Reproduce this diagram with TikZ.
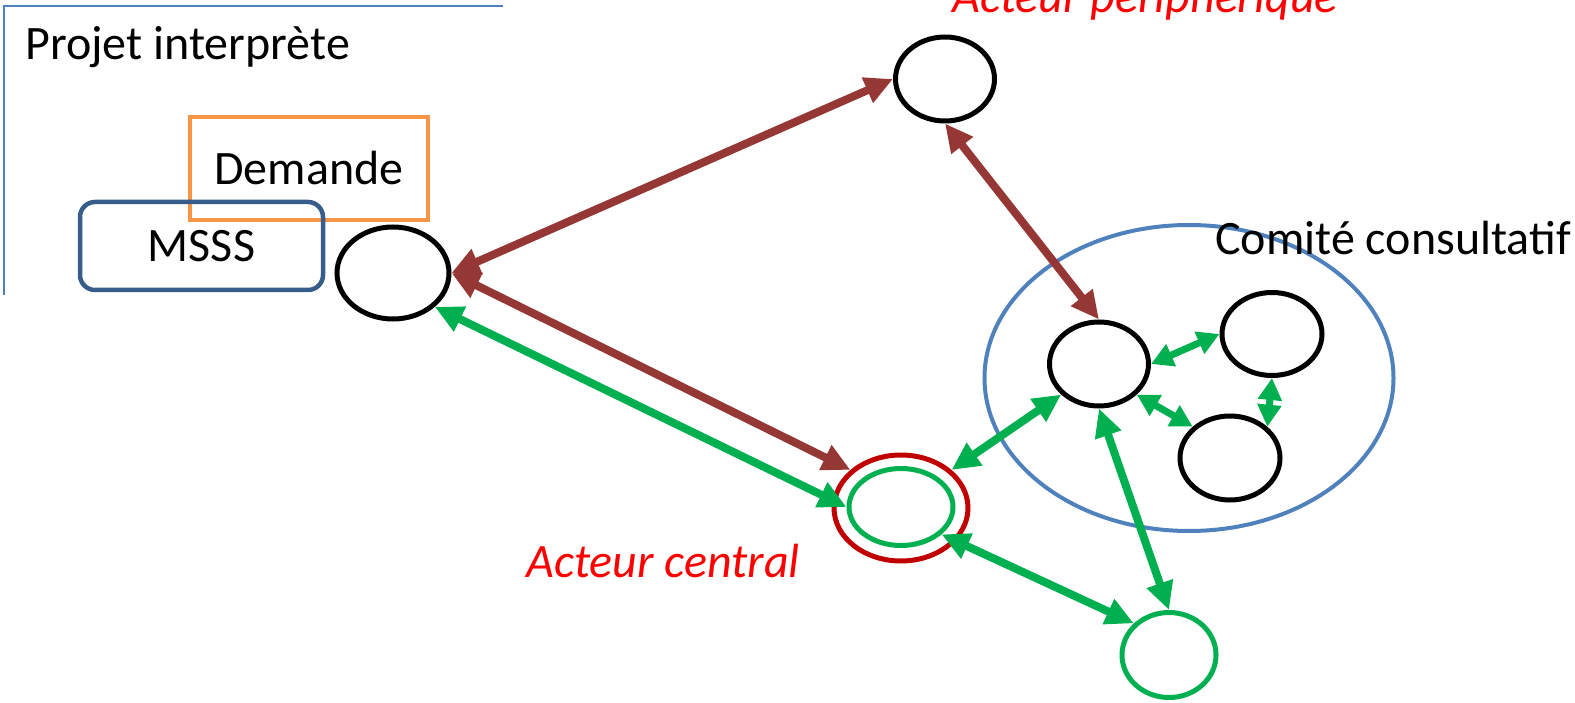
\documentclass[tikz,border=0pt]{standalone}
\usepackage{fontspec}
\setmainfont{Carlito}
\usetikzlibrary{shapes.geometric,arrows.meta}

\definecolor{linkbrown}{RGB}{149,55,53}
\definecolor{linkgreen}{RGB}{0,176,80}
\definecolor{frameblue}{RGB}{79,129,189}
\definecolor{demorange}{RGB}{247,150,70}
\definecolor{msssblue}{RGB}{56,93,138}
\definecolor{centralred}{RGB}{192,0,0}

\tikzset{every picture/.style={line width=0.75pt}}
\tikzset{
  actor/.style={ellipse, draw, line width=5pt, inner sep=0pt},
  bigtext/.style={font=\fontsize{48}{58}\selectfont, inner sep=0pt},
  redlabel/.style={font=\fontsize{48}{58}\selectfont\itshape, text=red, inner sep=0pt},
  brownlink/.style={draw=linkbrown, line width=8pt, >={Triangle[length=28pt,width=26pt]}, <->},
  greenlink/.style={draw=linkgreen, line width=8pt, >={Triangle[length=28pt,width=26pt]}, <->},
  smalllink/.style={draw=linkgreen, line width=7pt, >={Triangle[length=22pt,width=23pt]}, <->}
}

\begin{document}
\begin{tikzpicture}[x=1pt,y=1pt,yscale=-1,xscale=1]
\useasboundingbox (0,0) rectangle (1575,703);

%Straight Lines [frame]
\draw [frameblue, line width=2pt]  (503,6) -- (4,6) -- (4,295) ;

% Text Node
\node [bigtext, anchor=base west] (projlabel) at (25,60) {Projet interprète};
%Shape: Rectangle [demande]
\node [bigtext, draw=demorange, line width=4.5pt, minimum width=238pt, minimum height=103pt] (demande) at (309,168.5) {Demande};
%Shape: Rounded Rect [msss]
\node [bigtext, draw=msssblue, line width=4.5pt, rounded corners=15pt, minimum width=243pt, minimum height=88pt] (msss) at (201.5,246) {MSSS};

%Shape: Ellipse [projet]
\node [actor, minimum width=112pt, minimum height=92pt] (projet) at (393,273) {};
%Shape: Ellipse [periph]
\node [actor, minimum width=99pt, minimum height=84pt] (periph) at (945,79) {};
%Shape: Ellipse [comite]
\node [actor, draw=frameblue, line width=4pt, minimum width=409pt, minimum height=306pt] (comite) at (1189,378) {};
%Shape: Ellipse [comA]
\node [actor, minimum width=99pt, minimum height=84pt] (comA) at (1099,364) {};
%Shape: Ellipse [comB]
\node [actor, minimum width=100pt, minimum height=83pt] (comB) at (1272,334) {};
%Shape: Ellipse [comC]
\node [actor, minimum width=100pt, minimum height=84pt] (comC) at (1230,458) {};
%Shape: Ellipse [central]
\node [actor, draw=centralred, minimum width=134pt, minimum height=106pt] (central) at (901,508) {};
\node [actor, draw=linkgreen, minimum width=104pt, minimum height=77pt] (centralin) at (901,507) {};
%Shape: Ellipse [externe]
\node [actor, draw=linkgreen, minimum width=94pt, minimum height=85pt] (externe) at (1169,655) {};

% Text Node
\node [bigtext, anchor=base west] (comlabel) at (1215,255) {Comité consultatif};
% Text Node
\node [redlabel, anchor=base west] (centlabel) at (526,577) {Acteur central};
% Text Node
\node [redlabel, anchor=base west] (periphlabel) at (952,13) {Acteur périphérique};

% Connection
\draw [brownlink]  (projet.east) -- (periph.west) ;
% Connection
\draw [brownlink]  (periph.south) -- (comA.north) ;
% Connection
\draw [brownlink]  (projet.east) -- (central.143) ;
% Connection
\draw [greenlink]  (projet.-39) -- (centralin.west) ;
% Connection
\draw [greenlink]  (central.37) -- (comA.219) ;
% Connection
\draw [greenlink]  (centralin.-34) -- (externe.138) ;
% Connection
\draw [greenlink]  (comA.south) -- (externe.north) ;
% Connection
\draw [smalllink]  (comA.east) -- (comB.west) ;
% Connection
\draw [smalllink]  (comA.-39) -- (comC.140) ;
% Connection
\draw [smalllink]  (comB.south) -- (comC.40) ;

\end{tikzpicture}
\end{document}
